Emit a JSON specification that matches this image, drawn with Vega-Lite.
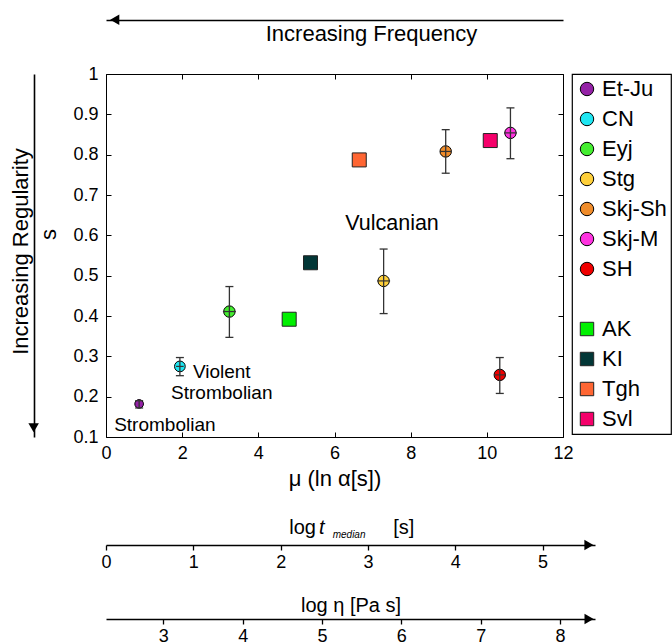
{
  "$schema": "https://vega.github.io/schema/vega-lite/v6.json",
  "padding": {"left": 9, "top": 14, "right": 0, "bottom": 0},
  "bounds": "flush",
  "spacing": 20,
  "resolve": {"scale": {"fill": "independent", "stroke": "independent", "shape": "independent", "size": "independent"}},
  "config": {
    "font": "Liberation Sans",
    "view": {"stroke": null},
    "axis": {"grid": false, "domainColor": "black", "tickColor": "black", "labelColor": "black", "titleColor": "black", "labelFontSize": 18, "titleFontSize": 22, "titleFontWeight": "normal", "labelFont": "Liberation Sans", "titleFont": "Liberation Sans", "labelFlush": false},
    "legend": {"orient": "right", "offset": 8, "padding": 4, "strokeColor": "black", "strokeWidth": 1.2, "fillColor": "white", "labelFontSize": 22, "labelFont": "Liberation Sans", "labelColor": "black", "symbolSize": 180, "symbolStrokeWidth": 1, "rowPadding": 8, "labelOffset": 4, "symbolOffset": 0, "labelLimit": 200},
    "text": {"font": "Liberation Sans", "color": "black"}
  },
  "vconcat": [
    {
      "width": 457,
      "height": 363,
      "data": {"values": [
        {"name": "Et-Ju", "mu": 0.87, "s": 0.182, "lo": 0.172, "hi": 0.19, "xlo": null, "xhi": null, "sz": 75},
        {"name": "CN", "mu": 1.94, "s": 0.275, "lo": 0.252, "hi": 0.297, "xlo": 1.84, "xhi": 2.04, "sz": 115},
        {"name": "Eyj", "mu": 3.24, "s": 0.411, "lo": 0.347, "hi": 0.473, "xlo": 3.07, "xhi": 3.41, "sz": 130},
        {"name": "Stg", "mu": 7.29, "s": 0.487, "lo": 0.406, "hi": 0.566, "xlo": 7.12, "xhi": 7.46, "sz": 130},
        {"name": "Skj-Sh", "mu": 8.92, "s": 0.808, "lo": 0.754, "hi": 0.862, "xlo": 8.77, "xhi": 9.07, "sz": 130},
        {"name": "Skj-M", "mu": 10.62, "s": 0.854, "lo": 0.79, "hi": 0.916, "xlo": 10.45, "xhi": 10.79, "sz": 130},
        {"name": "SH", "mu": 10.34, "s": 0.254, "lo": 0.208, "hi": 0.297, "xlo": 10.19, "xhi": 10.49, "sz": 130},
        {"name": "AK", "mu": 4.81, "s": 0.392, "lo": null, "hi": null, "xlo": null, "xhi": null, "sz": 196},
        {"name": "KI", "mu": 5.37, "s": 0.532, "lo": null, "hi": null, "xlo": null, "xhi": null, "sz": 196},
        {"name": "Tgh", "mu": 6.65, "s": 0.787, "lo": null, "hi": null, "xlo": null, "xhi": null, "sz": 196},
        {"name": "Svl", "mu": 10.09, "s": 0.835, "lo": null, "hi": null, "xlo": null, "xhi": null, "sz": 196}
      ]},
      "resolve": {"axis": {"x": "independent", "y": "independent"}},
      "layer": [
        {
          "mark": {"type": "point", "filled": true, "strokeWidth": 1, "opacity": 1},
          "encoding": {
            "x": {"field": "mu", "type": "quantitative", "scale": {"domain": [0, 12], "nice": false, "zero": false},
                  "axis": {"orient": "bottom", "values": [0, 2, 4, 6, 8, 10, 12], "title": "μ (ln α[s])", "tickSize": -5, "labelPadding": 12, "titlePadding": 6, "domainWidth": 1}},
            "y": {"field": "s", "type": "quantitative", "scale": {"domain": [0.1, 1], "nice": false, "zero": false},
                  "axis": {"orient": "left", "values": [0.1, 0.2, 0.3, 0.4, 0.5, 0.6, 0.7, 0.8, 0.9, 1], "format": ".1~f", "title": "s", "tickSize": -5, "labelPadding": 13, "titleX": -58, "titleY": 160, "titleBaseline": "middle", "domainWidth": 1}},
            "fill": {"field": "name", "type": "nominal",
                     "scale": {"domain": ["Et-Ju", "CN", "Eyj", "Stg", "Skj-Sh", "Skj-M", "SH", " ", "AK", "KI", "Tgh", "Svl"],
                               "range": ["#9421a6", "#1fe6f2", "#44ee30", "#ffd03a", "#f08c2a", "#ff33e0", "#f00000", "transparent", "#00f000", "#023636", "#ff6633", "#f5006a"]},
                     "legend": {"title": null}},
            "stroke": {"field": "name", "type": "nominal",
                       "scale": {"domain": ["Et-Ju", "CN", "Eyj", "Stg", "Skj-Sh", "Skj-M", "SH", " ", "AK", "KI", "Tgh", "Svl"],
                                 "range": ["black", "black", "black", "black", "black", "black", "black", "transparent", "#222", "#222", "#222", "#222"]},
                       "legend": {"title": null}},
            "shape": {"field": "name", "type": "nominal",
                      "scale": {"domain": ["Et-Ju", "CN", "Eyj", "Stg", "Skj-Sh", "Skj-M", "SH", " ", "AK", "KI", "Tgh", "Svl"],
                                "range": ["circle", "circle", "circle", "circle", "circle", "circle", "circle", "circle", "square", "square", "square", "square"]},
                      "legend": {"title": null}},
            "size": {"field": "sz", "type": "quantitative", "scale": null, "legend": null}
          }
        },
        {
          "transform": [{"filter": "isValid(datum.lo)"}],
          "mark": {"type": "rule", "color": "#333", "strokeWidth": 1.3},
          "encoding": {
            "x": {"field": "mu", "type": "quantitative", "axis": {"orient": "top", "values": [0, 2, 4, 6, 8, 10, 12], "labels": false, "tickSize": -5, "title": null, "domainWidth": 1}},
            "y": {"field": "lo", "type": "quantitative", "axis": {"orient": "right", "values": [0.1, 0.2, 0.3, 0.4, 0.5, 0.6, 0.7, 0.8, 0.9, 1], "labels": false, "tickSize": -5, "title": null, "domainWidth": 1}},
            "y2": {"field": "hi"}
          }
        },
        {
          "transform": [{"filter": "isValid(datum.lo)"}],
          "mark": {"type": "tick", "orient": "horizontal", "size": 8, "thickness": 1.3, "color": "#333", "opacity": 1},
          "encoding": {
            "x": {"field": "mu", "type": "quantitative", "axis": {"orient": "top", "offset": 54, "domainWidth": 1.6, "ticks": false, "labels": false, "title": "Increasing Frequency", "titleX": 265, "titleY": 20, "titleBaseline": "alphabetic", "titleAlign": "center", "titleAngle": 0}},
            "y": {"field": "lo", "type": "quantitative", "axis": {"orient": "left", "offset": 72, "domainWidth": 1.6, "ticks": false, "labels": false, "title": "Increasing Regularity", "titleX": -14, "titleY": 177, "titleBaseline": "middle"}}
          }
        },
        {
          "transform": [{"filter": "isValid(datum.hi)"}],
          "mark": {"type": "tick", "orient": "horizontal", "size": 8, "thickness": 1.3, "color": "#333", "opacity": 1},
          "encoding": {
            "x": {"field": "mu", "type": "quantitative", "axis": null},
            "y": {"field": "hi", "type": "quantitative", "axis": null}
          }
        },
        {
          "transform": [{"filter": "isValid(datum.xlo)"}],
          "mark": {"type": "rule", "color": "#333", "strokeWidth": 1.2},
          "encoding": {
            "x": {"field": "xlo", "type": "quantitative", "axis": null},
            "x2": {"field": "xhi"},
            "y": {"field": "s", "type": "quantitative", "axis": null}
          }
        },
        {
          "data": {"values": [
            {"t": "Vulcanian", "x": 7.51, "y": 0.628, "fs": 21.5},
            {"t": "Violent", "x": 3.04, "y": 0.262, "fs": 19},
            {"t": "Strombolian", "x": 3.04, "y": 0.209, "fs": 19},
            {"t": "Strombolian", "x": 1.545, "y": 0.13, "fs": 19}
          ]},
          "mark": {"type": "text", "align": "center", "baseline": "middle", "color": "black"},
          "encoding": {
            "x": {"field": "x", "type": "quantitative", "axis": null},
            "y": {"field": "y", "type": "quantitative", "axis": null},
            "text": {"field": "t"},
            "size": {"field": "fs", "type": "quantitative", "scale": null, "legend": null}
          }
        },
        {
          "data": {"values": [{"ax": 0.23, "ay": 1.1346}]},
          "mark": {"type": "point", "shape": "triangle-left", "filled": true, "color": "black", "size": 110, "opacity": 1},
          "encoding": {
            "x": {"field": "ax", "type": "quantitative", "axis": null},
            "y": {"field": "ay", "type": "quantitative", "axis": null}
          }
        },
        {
          "data": {"values": [{"ax": -1.9, "ay": 0.123}]},
          "mark": {"type": "point", "shape": "triangle-down", "filled": true, "color": "black", "size": 110, "opacity": 1},
          "encoding": {
            "x": {"field": "ax", "type": "quantitative", "axis": null},
            "y": {"field": "ay", "type": "quantitative", "axis": null}
          }
        }
      ]
    },
    {
      "width": 489,
      "height": 88,
      "resolve": {"axis": {"x": "independent", "y": "independent"}},
      "layer": [
        {
          "data": {"values": [{"ax": 5.53, "ay": 0}]},
          "mark": {"type": "point", "shape": "triangle-right", "filled": true, "color": "black", "size": 110, "opacity": 1},
          "encoding": {
            "x": {"field": "ax", "type": "quantitative", "scale": {"domain": [0, 5.6], "nice": false, "zero": false},
                  "axis": {"orient": "bottom", "values": [0, 1, 2, 3, 4, 5], "title": null, "tickSize": 5, "labelPadding": 3, "domainWidth": 1.6, "tickWidth": 1.3}},
            "y": {"field": "ay", "type": "quantitative", "scale": {"domain": [0, 1], "nice": false, "zero": false}, "axis": null}
          }
        },
        {
          "data": {"values": [
            {"t": "log", "x": 2.099, "y": 0.122},
            {"t": "[s]", "x": 3.289, "y": 0.122}
          ]},
          "mark": {"type": "text", "align": "left", "baseline": "alphabetic", "fontSize": 20, "color": "black"},
          "encoding": {
            "x": {"field": "x", "type": "quantitative", "axis": null},
            "y": {"field": "y", "type": "quantitative", "axis": null},
            "text": {"field": "t"}
          }
        },
        {
          "data": {"values": [
            {"t": "t", "x": 2.439, "y": 0.122, "fs": 20},
            {"t": "median", "x": 2.596, "y": 0.083, "fs": 10}
          ]},
          "mark": {"type": "text", "align": "left", "baseline": "alphabetic", "fontStyle": "italic", "color": "black"},
          "encoding": {
            "x": {"field": "x", "type": "quantitative", "axis": null},
            "y": {"field": "y", "type": "quantitative", "axis": null},
            "text": {"field": "t"},
            "size": {"field": "fs", "type": "quantitative", "scale": null, "legend": null}
          }
        }
      ]
    },
    {
      "width": 489,
      "height": 54,
      "data": {"values": [{"ax": 8.366, "ay": 0}]},
      "mark": {"type": "point", "shape": "triangle-right", "filled": true, "color": "black", "size": 110, "opacity": 1},
      "encoding": {
        "x": {"field": "ax", "type": "quantitative", "scale": {"domain": [2.277, 8.441], "nice": false, "zero": false},
              "axis": {"orient": "bottom", "values": [3, 4, 5, 6, 7, 8], "title": "log η [Pa s]", "titleY": -8, "titleBaseline": "alphabetic", "titleFontSize": 20, "tickSize": 5, "labelPadding": 3, "domainWidth": 1.6, "tickWidth": 1.3}},
        "y": {"field": "ay", "type": "quantitative", "scale": {"domain": [0, 1], "nice": false, "zero": false}, "axis": null}
      }
    }
  ]
}
